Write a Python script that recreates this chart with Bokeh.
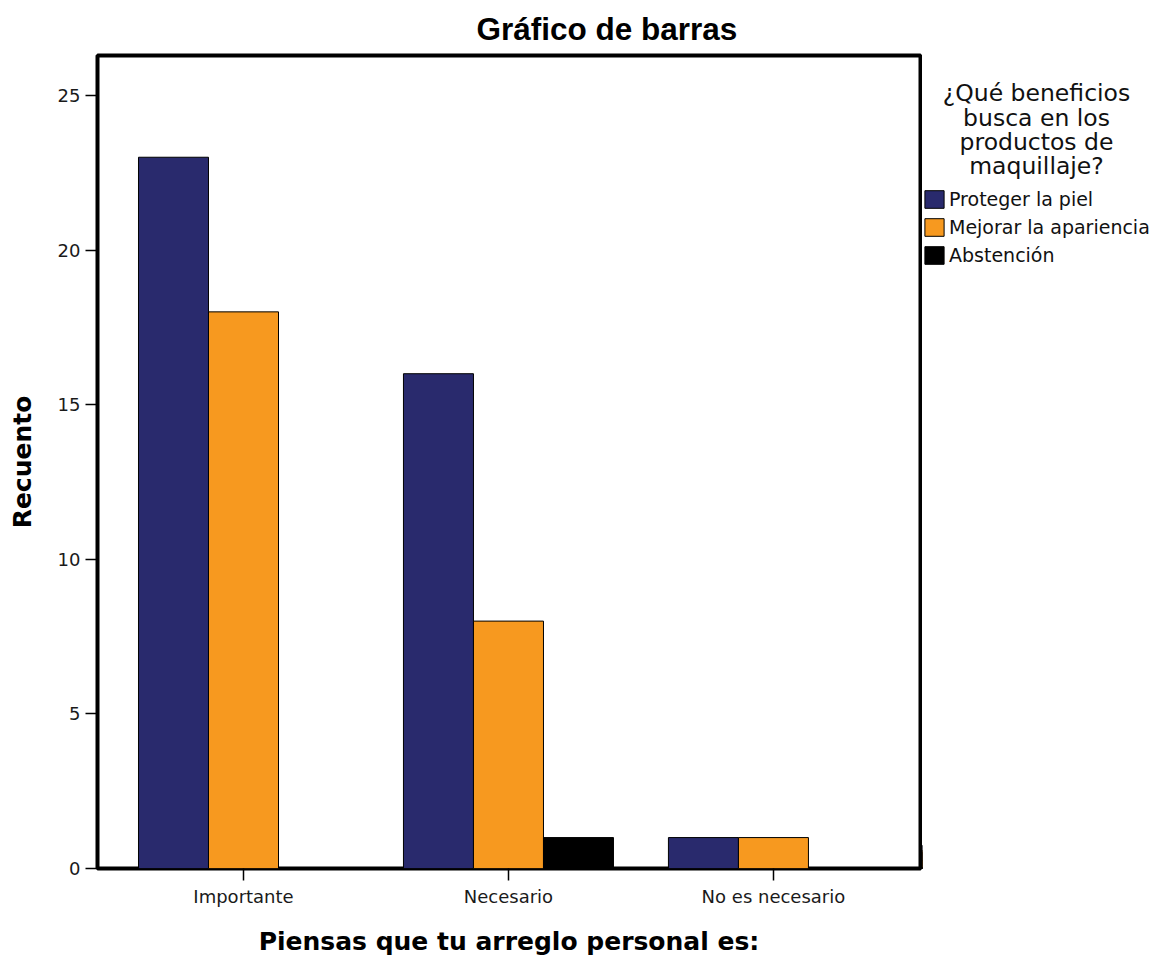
from bokeh.plotting import figure
from bokeh.models import (Range1d, FixedTicker, ColumnDataSource, Legend,
                          LegendItem, Label)
from bokeh.layouts import row
from bokeh.transform import dodge
from bokeh.embed import file_html
from bokeh.resources import INLINE

# ---- data ----
categories = ["Importante", "Necesario", "No es necesario"]
proteger = [23, 16, 1]
mejorar = [18, 8, 1]
abstencion = [0, 1, 0]
series_names = ["Proteger la piel", "Mejorar la apariencia", "Abstención"]
legend_title = ["¿Qué beneficios", "busca en los", "productos de", "maquillaje?"]
y_ticks = [0, 5, 10, 15, 20, 25]
chart_title = "Gráfico de barras"
x_label = "Piensas que tu arreglo personal es:"
y_label = "Recuento"

colors = ["#292A6D", "#F7991F", "#000000"]
fields = ["proteger", "mejorar", "abstencion"]

src = ColumnDataSource(dict(
    x=list(range(len(categories))),
    proteger=proteger, mejorar=mejorar, abstencion=abstencion,
))

H = 958
W1 = 922
W2 = 228
FRAME_TOP = 54
FRAME_BOTTOM = 868

p = figure(width=W1, height=H, output_backend="svg", toolbar_location=None,
           x_range=Range1d(-0.551, 2.555), y_range=Range1d(0, 26.29),
           min_border_left=97, min_border_right=2,
           min_border_top=FRAME_TOP, min_border_bottom=H - FRAME_BOTTOM)
p.background_fill_color = "white"
p.border_fill_color = "white"
p.grid.visible = False
p.outline_line_color = "black"
p.outline_line_width = 4
p.outline_line_alpha = 1.0

p.title.text = chart_title
p.title.align = "left"
p.title.offset = 379
p.title.text_font = "Liberation Sans"
p.title.text_font_size = "31.5px"
p.title.text_font_style = "bold"
p.title.text_color = "black"
p.title.standoff = 17

bw = 0.2642
offsets = [-bw, 0.0, bw]
for f, off, c in zip(fields, offsets, colors):
    p.vbar(x=dodge("x", off), top=f, width=bw, source=src,
           fill_color=c, line_color="black", line_width=1)

# axes
for ax in (p.xaxis, p.yaxis):
    ax.axis_line_color = None
    ax.major_tick_in = 0
    ax.major_tick_out = 12
    ax.major_tick_line_width = 1.5
    ax.major_tick_line_color = "black"
    ax.minor_tick_line_color = None
    ax.major_label_text_font = "DejaVu Sans"
    ax.major_label_text_font_size = "18px"
    ax.major_label_text_color = "#1a1a1a"
    ax.major_label_standoff = 5
    ax.axis_label_text_font = "DejaVu Sans"
    ax.axis_label_text_font_size = "25px"
    ax.axis_label_text_font_style = "bold"
    ax.axis_label_text_color = "black"

p.xaxis.ticker = FixedTicker(ticks=list(range(len(categories))))
p.xaxis.major_label_overrides = {i: c for i, c in enumerate(categories)}
p.xaxis.axis_label = x_label
p.xaxis.axis_label_standoff = 17

p.yaxis.ticker = FixedTicker(ticks=y_ticks)
p.yaxis.axis_label = y_label
p.yaxis.axis_label_standoff = 18

# ---- legend panel (second figure; frame aligned with main frame, pixel units) ----
FH = FRAME_BOTTOM - FRAME_TOP
p2 = figure(width=W2, height=H, output_backend="svg", toolbar_location=None,
            x_range=Range1d(0, W2), y_range=Range1d(0, FH),
            min_border_left=0, min_border_right=0,
            min_border_top=FRAME_TOP, min_border_bottom=H - FRAME_BOTTOM)
p2.axis.visible = False
p2.grid.visible = False
p2.outline_line_color = None
p2.background_fill_color = "white"
p2.border_fill_color = "white"

# legend swatch renderers: same series, shifted far outside this panel's view
legend_renderers = []
for f, c in zip(fields, colors):
    r = p2.vbar(x=dodge("x", -100000), top=f, width=1, source=src,
                fill_color=c, line_color="black", line_width=1)
    legend_renderers.append(r)

baselines = [92, 117, 141, 165]   # page y of each title line's baseline
for t, yb in zip(legend_title, baselines):
    p2.add_layout(Label(x=114, y=FRAME_BOTTOM - yb, text=t, text_align="center",
                        text_baseline="alphabetic", text_font="DejaVu Sans",
                        text_font_size="23.5px", text_color="#111111"))

legend = Legend(
    items=[LegendItem(label=n, renderers=[r])
           for n, r in zip(series_names, legend_renderers)],
    location=(0, FRAME_BOTTOM - 266), orientation="vertical",
    glyph_width=24, glyph_height=22, label_height=22, spacing=6,
    label_standoff=3, padding=0, margin=0,
    border_line_color=None, background_fill_alpha=0,
    label_text_font="DejaVu Sans", label_text_font_size="19px",
    label_text_color="#111111",
)
p2.add_layout(legend)

layout = row(p, p2)
open("out.html", "w").write(file_html(layout, INLINE))
